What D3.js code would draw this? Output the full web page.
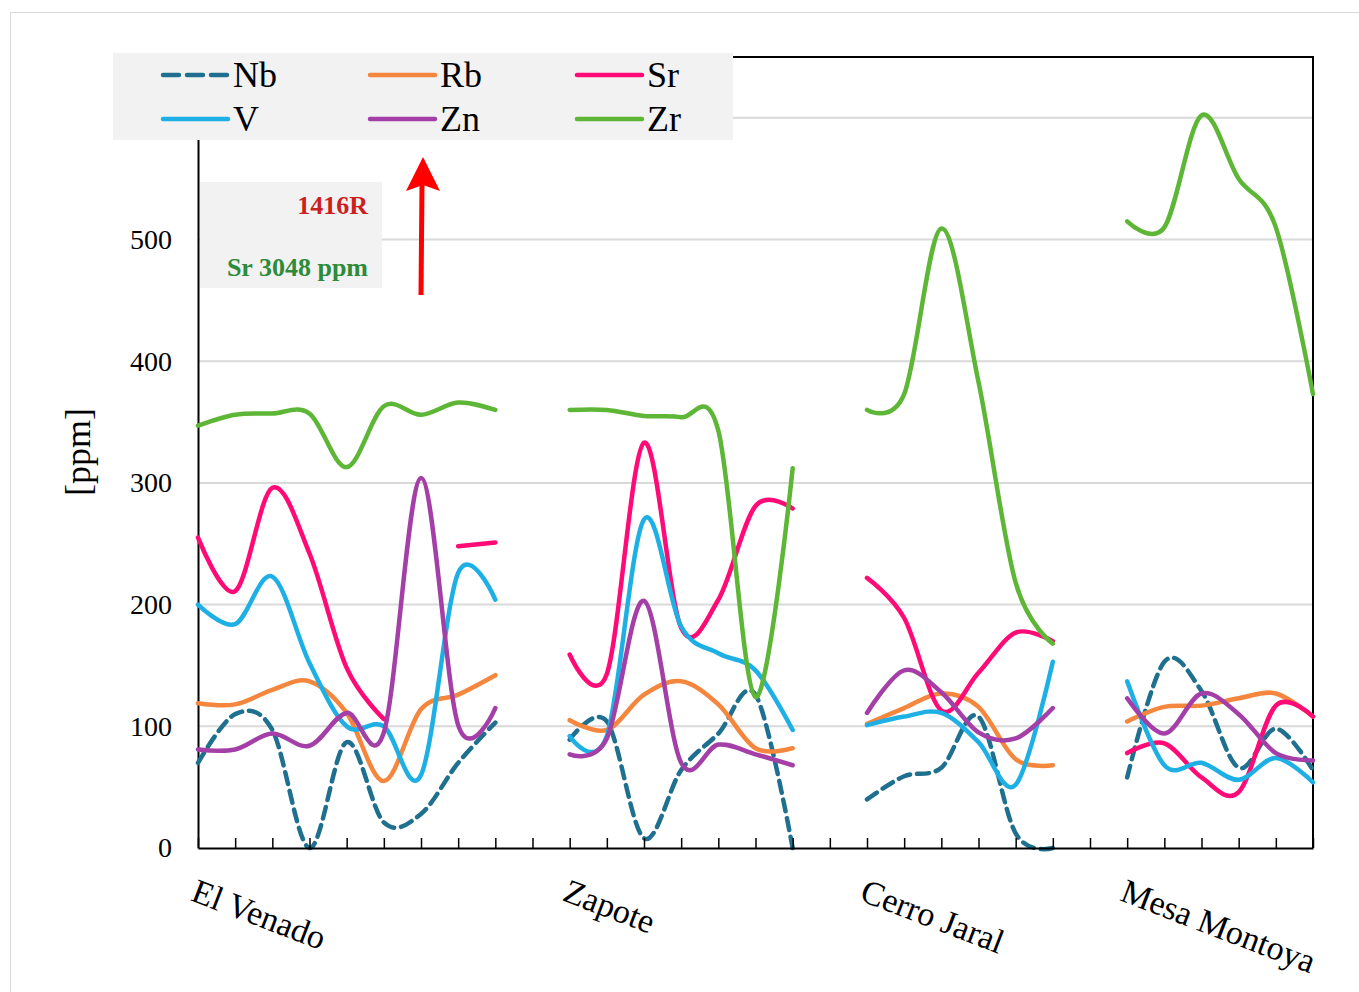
<!DOCTYPE html>
<html>
<head>
<meta charset="utf-8">
<style>
  body { margin: 0; background: #fff; }
  svg { display: block; font-family: "Liberation Serif", "Times New Roman", serif; }
</style>
</head>
<body>
<svg width="1359" height="992"></svg>
<script src="https://cdn.jsdelivr.net/npm/d3@7"></script>
<script>

// category slots: one per sample, empty slots separate the localities
var categories = ["El Venado","","","","","","","","", "",
                  "Zapote","","","","","","", "",
                  "Cerro Jaral","","","","","", "",
                  "Mesa Montoya","","","","",""];

var nb = [70,110,97,0,87,21,28,70,103, null, 89,104,8,64,94,126,0, null, 40,59,66,108,12,0, null, 58,153,129,66,98,64];
var rb = [119,118,130,137,111,55,114,126,142, null, 105,97,126,137,118,82,82, null, 102,115,127,116,73,68, null, 104,116,117,123,127,108];
var sr = [255,211,296,242,148,106,null,248,251, null, 159,143,333,181,204,281,279, null, 222,189,113,144,177,170, null, 78,86,58,46,117,108];
var v  = [200,184,223,152,100,100,60,226,204, null, 92,92,270,182,160,146,97, null, 101,108,111,87,52,153, null, 137,68,70,56,74,54];
var zn = [81,81,94,84,111,95,304,101,115, null, 77,90,203,70,85,77,68, null, 111,146,128,95,90,115, null, 123,94,127,110,78,72];
var zr = [347,356,357,357,313,363,356,366,360, null, 360,360,355,354,343,124,312, null, 360,373,509,383,218,168, null, 515,510,602,550,510,373];

var yTicks = [0, 100, 200, 300, 400, 500];
var gridTicks = [100, 200, 300, 400, 500, 600];

var series = [
  {name: "Nb", values: nb, color: "#1f6f8f", dash: "12,7"},
  {name: "Rb", values: rb, color: "#f5863d", dash: null},
  {name: "Sr", values: sr, color: "#ff0a76", dash: null},
  {name: "V",  values: v,  color: "#1eb0e4", dash: null},
  {name: "Zn", values: zn, color: "#a33fa6", dash: null},
  {name: "Zr", values: zr, color: "#5db636", dash: null}
];

var svg = d3.select("svg"),
    plotLeft = 198, plotRight = 1313, plotTop = 57, plotBottom = 848;

// outer frame
svg.append("rect")
    .attr("x", 10.5).attr("y", 12.5)
    .attr("width", 1370).attr("height", 1000)
    .attr("fill", "none")
    .attr("stroke", "#d9d9d9");

var x = d3.scalePoint()
    .domain(d3.range(categories.length))
    .range([plotLeft, plotRight]);

var y = d3.scaleLinear()
    .domain([0, 650])
    .range([plotBottom, plotTop]);

// gridlines
svg.append("g")
  .selectAll("line")
  .data(gridTicks)
  .enter().append("line")
    .attr("x1", plotLeft).attr("x2", plotRight)
    .attr("y1", function(d) { return y(d); })
    .attr("y2", function(d) { return y(d); })
    .attr("stroke", "#d9d9d9")
    .attr("stroke-width", 2);

// plot border (top/right)
svg.append("path")
    .attr("d", "M" + plotLeft + "," + plotTop + "H" + plotRight + "V" + plotBottom)
    .attr("fill", "none")
    .attr("stroke", "#000")
    .attr("stroke-width", 2);

// y axis
var yAxis = svg.append("g")
    .attr("transform", "translate(" + plotLeft + ",0)")
    .call(d3.axisLeft(y).tickValues(yTicks).tickSize(0).tickPadding(26));
yAxis.select(".domain").attr("stroke", "#000").attr("stroke-width", 2);
yAxis.selectAll("text")
    .attr("font-family", "Liberation Serif")
    .attr("font-size", 28)
    .attr("fill", "#000");

svg.append("text")
    .attr("transform", "translate(90,452) rotate(-90)")
    .attr("text-anchor", "middle")
    .attr("font-size", 36)
    .text("[ppm]");

// lines
var line = d3.line()
    .defined(function(d) { return d != null; })
    .x(function(d, i) { return x(i); })
    .y(function(d) { return y(d); })
    .curve(d3.curveCardinal.tension(0));

svg.append("g")
  .selectAll("path")
  .data(series)
  .enter().append("path")
    .attr("fill", "none")
    .attr("stroke", function(d) { return d.color; })
    .attr("stroke-width", 4.5)
    .attr("stroke-linecap", "round")
    .attr("stroke-linejoin", "round")
    .attr("stroke-dasharray", function(d) { return d.dash; })
    .attr("d", function(d) { return line(d.values); });

// x axis with inward ticks
var xAxis = svg.append("g")
    .attr("transform", "translate(0," + plotBottom + ")")
    .call(d3.axisBottom(x).tickSizeInner(-10).tickSizeOuter(0)
      .tickFormat(function(i) { return categories[i]; }));
xAxis.select(".domain").attr("stroke", "#000").attr("stroke-width", 2);
xAxis.selectAll(".tick line").attr("stroke", "#000").attr("stroke-width", 1.5);
xAxis.selectAll("text")
    .attr("x", 0).attr("y", 0).attr("dy", 0)
    .attr("transform", "translate(-9,52) rotate(21)")
    .attr("text-anchor", "start")
    .attr("font-family", "Liberation Serif")
    .attr("font-size", 34)
    .attr("fill", "#000");

// legend
var legend = svg.append("g");
legend.append("rect")
    .attr("x", 113).attr("y", 53)
    .attr("width", 620).attr("height", 87)
    .attr("fill", "#f2f2f2");

var item = legend.selectAll("g.item")
    .data(series)
  .enter().append("g")
    .attr("class", "item")
    .attr("transform", function(d, i) {
      return "translate(" + (163 + (i % 3) * 207) + "," + (75 + Math.floor(i / 3) * 44) + ")";
    });
item.append("line")
    .attr("x1", 0).attr("x2", 65)
    .attr("stroke", function(d) { return d.color; })
    .attr("stroke-width", 4.5)
    .attr("stroke-linecap", "round")
    .attr("stroke-dasharray", function(d) { return d.dash ? "16,8" : null; });
item.append("text")
    .attr("x", 70).attr("y", 12)
    .attr("font-size", 36)
    .text(function(d) { return d.name; });

// annotation
svg.append("rect")
    .attr("x", 200).attr("y", 182)
    .attr("width", 182).attr("height", 106)
    .attr("fill", "#f2f2f2");
svg.append("text")
    .attr("x", 368).attr("y", 214)
    .attr("text-anchor", "end")
    .attr("font-weight", "bold")
    .attr("font-size", 26)
    .attr("fill", "#cc1f1f")
    .text("1416R");
svg.append("text")
    .attr("x", 368).attr("y", 276)
    .attr("text-anchor", "end")
    .attr("font-weight", "bold")
    .attr("font-size", 26)
    .attr("fill", "#2e8b3a")
    .text("Sr 3048 ppm");

// red arrow
svg.append("line")
    .attr("x1", 421).attr("y1", 295)
    .attr("x2", 422).attr("y2", 185)
    .attr("stroke", "#ff0000")
    .attr("stroke-width", 5);
svg.append("path")
    .attr("d", "M423,157L440,191L423,185L406,191Z")
    .attr("fill", "#ff0000");

</script>
</body>
</html>
